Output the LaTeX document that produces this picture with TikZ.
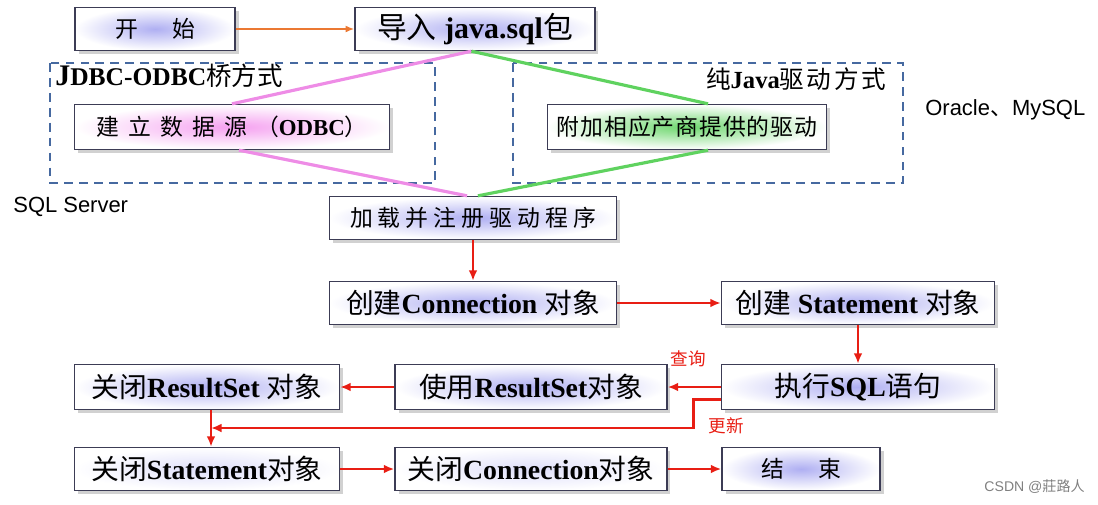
\documentclass[tikz,border=0pt]{standalone}
\usepackage{fontspec}
\setmainfont{Liberation Serif}
\newfontfamily\cjk{Noto Sans CJK SC}
\newfontfamily\arial{Liberation Sans}
\usetikzlibrary{arrows.meta,shadows}
\definecolor{boxline}{RGB}{60,60,85}
\definecolor{dashblue}{RGB}{70,105,160}
\definecolor{linepink}{RGB}{238,140,230}
\definecolor{linegreen}{RGB}{95,210,95}
\definecolor{arrowred}{RGB}{232,30,20}
\definecolor{arroworange}{RGB}{235,120,50}
\definecolor{glowblue}{RGB}{175,175,242}
\definecolor{glowpink}{RGB}{245,160,240}
\definecolor{glowgreen}{RGB}{110,215,110}
\definecolor{glowfaint}{RGB}{222,222,250}
\newcommand\zh[1]{{\cjk\mdseries #1}}
\newcommand\zhsp[2]{{\cjk\mdseries\addfontfeature{LetterSpace=#1}#2}}

\begin{document}
\begin{tikzpicture}[x=0.02cm,y=-0.02cm,
  box/.style={draw=boxline,line width=.8pt,fill=white,minimum height=.86cm,inner sep=2pt,
    font=\fontsize{15.8}{17}\selectfont\bfseries,
    drop shadow={shadow xshift=2pt,shadow yshift=-2pt,fill=gray!60,opacity=.6}},
  smalltext/.style={font=\fontsize{13}{15}\selectfont\bfseries},
  glow/.style={path picture={\shade[inner color=#1,outer color=white]
    (path picture bounding box.south west) rectangle (path picture bounding box.north east);}},
  glow/.default=glowblue,
  dashbox/.style={draw=dashblue,line width=1.2pt,dash pattern=on 5pt off 3.5pt},
  redarrow/.style={draw=arrowred,line width=1.6pt,-{Latex[length=6pt,width=5pt]}},
  pinkline/.style={draw=linepink,line width=1.8pt},
  greenline/.style={draw=linegreen,line width=1.8pt},
  note/.style={font=\arial\fontsize{12.5}{14}\selectfont}]
\useasboundingbox (0,0) rectangle (1098,504);

% two ways of loading the driver
\draw[dashbox] (50,63) rectangle (435,183);
\draw[dashbox] (513,63) rectangle (903,183);
\node[anchor=west,inner sep=0pt,font=\fontsize{14.5}{16}\selectfont\bfseries] (jdbcodbc) at (55,76)
  {{\fontsize{17}{18}\selectfont J}DBC-ODBC\zh{桥方式}};
\node[anchor=east,inner sep=0pt,font=\fontsize{14}{16}\selectfont\bfseries] (purejava) at (886,79)
  {\zh{纯}Java\zhsp{10}{驱动方式}};
\node[note,anchor=west,inner sep=0pt] (sqlserver) at (13,207) {SQL Server};
\node[note,anchor=west,inner sep=0pt] (oracle) at (925,110) {Oracle\zh{、}MySQL};

\node[box,smalltext,glow,minimum width=3.2cm] (start) at (155,29) {\zh{开\hspace{1.5em}始}};
\node[box,glow,minimum width=4.8cm,font=\fontsize{17}{18}\selectfont\bfseries] (import) at (475,29)
  {\zh{导入} java.sql\zh{包}};
\node[box,smalltext,glow=glowpink,minimum width=6.3cm,minimum height=.9cm] (odbc) at (232,127)
  {\zhsp{40}{建立数据源（}ODBC\zh{）}};
\node[box,smalltext,glow=glowgreen,minimum width=5.58cm,minimum height=.9cm] (vendor) at (687,127)
  {\zhsp{4}{附加相应产商提供的驱动}};
\node[box,smalltext,glow,minimum width=5.74cm] (load) at (473,218) {\zhsp{22}{加载并注册驱动程序}};
\node[box,glow,minimum width=5.74cm] (conn) at (473,303) {\zh{创建}Connection \zh{对象}};
\node[box,glow,minimum width=5.46cm] (stmt) at (858,303) {\zh{创建} Statement \zh{对象}};
\node[box,glow,minimum width=5.46cm,minimum height=.9cm] (exec) at (858,387) {\zh{执行}SQL\zh{语句}};
\node[box,glow,minimum width=5.44cm,minimum height=.9cm] (useRS) at (531,387) {\zh{使用}ResultSet\zh{对象}};
\node[box,glow,minimum width=5.3cm,minimum height=.9cm] (closeRS) at (207,387) {\zh{关闭}ResultSet \zh{对象}};
\node[box,glow=glowfaint,minimum width=5.3cm] (closeStmt) at (207,469) {\zh{关闭}Statement\zh{对象}};
\node[box,glow=glowfaint,minimum width=5.44cm] (closeConn) at (531,469) {\zh{关闭}Connection\zh{对象}};
\node[box,smalltext,glow,minimum width=3.16cm] (end) at (801,469) {\zh{结\hspace{1.5em}束}};

\draw[draw=arroworange,line width=1.4pt,-{Latex[length=5pt,width=4pt]}] (start) -- (import);
\draw[pinkline] ([xshift=-2pt]import.south) -- (odbc.north);
\draw[pinkline] ([xshift=.14cm]odbc.south) -- ([xshift=-.12cm]load.north);
\draw[greenline] ([xshift=-2pt]import.south) -- ([xshift=.42cm]vendor.north);
\draw[greenline] ([xshift=.42cm]vendor.south) -- ([xshift=.1cm]load.north);

\draw[redarrow] (load) -- (conn);
\draw[redarrow] (conn) -- (stmt);
\draw[redarrow] (stmt) -- (exec);
\draw[redarrow] (exec) -- (useRS);
\draw[redarrow] (useRS) -- (closeRS);
\draw[redarrow] ([xshift=.08cm]closeRS.south) -- ([xshift=.08cm]closeStmt.north);
\coordinate (upd) at ([xshift=.08cm]closeRS.south |- 0,428);
\draw[redarrow] ([yshift=.22cm]exec.south west) -- ++(-27,0) |- (upd);
\draw[redarrow] (closeStmt) -- (closeConn);
\draw[redarrow] (closeConn) -- (end);
\node[text=arrowred,font=\cjk\fontsize{10}{12}\selectfont,inner sep=0pt] (query) at (688,359) {查询};
\node[text=arrowred,font=\cjk\fontsize{10}{12}\selectfont,inner sep=0pt] (update) at (726,426) {更新};

\node[text=gray,font=\arial\fontsize{8}{10}\selectfont,anchor=east,inner sep=0pt] (mark) at (1085,487)
  {CSDN @\zh{莊路人}};
\end{tikzpicture}
\end{document}
